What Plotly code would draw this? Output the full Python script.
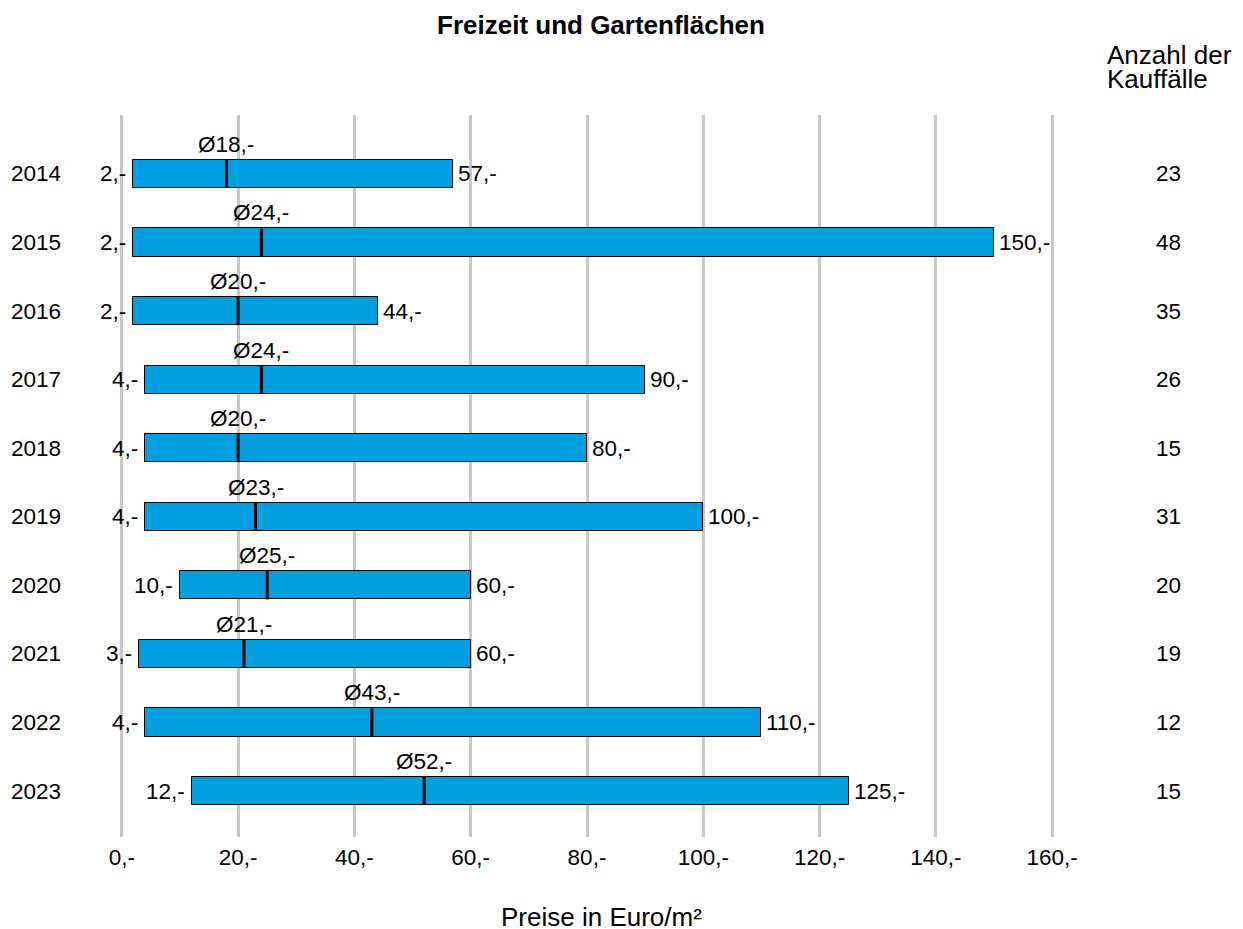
import plotly.graph_objects as go

years = ["2014", "2015", "2016", "2017", "2018", "2019", "2020", "2021", "2022", "2023"]
min_vals = [2, 2, 2, 4, 4, 4, 10, 3, 4, 12]
max_vals = [57, 150, 44, 90, 80, 100, 60, 60, 110, 125]
mean_vals = [18, 24, 20, 24, 20, 23, 25, 21, 43, 52]
counts = [23, 48, 35, 26, 15, 31, 20, 19, 12, 15]
tick_vals = [0, 20, 40, 60, 80, 100, 120, 140, 160]
tick_text = [f"{v},-" for v in tick_vals]

FONT = "Liberation Sans, Arial, sans-serif"
FS = 22.5
BIG = 26
BAR_COLOR = "#009FE0"
BAR_W = 0.41

ypos = list(range(len(years)))


def px_x(p):
    return (p - 116) / 942


def px_y(p):
    return (837 - p) / 722


fig = go.Figure()
fig.add_trace(go.Bar(
    y=ypos, x=[mx - mn for mn, mx in zip(min_vals, max_vals)], base=min_vals,
    orientation="h", width=BAR_W,
    marker=dict(color=BAR_COLOR, line=dict(color="black", width=1)),
    hoverinfo="skip", showlegend=False,
))
fig.add_trace(go.Scatter(
    y=ypos, x=mean_vals, mode="markers",
    marker=dict(symbol="line-ns", size=20, line=dict(color="black", width=3)),
    hoverinfo="skip", showlegend=False,
))

ann = []
for i, (mn, mx, me, c, yr) in enumerate(zip(min_vals, max_vals, mean_vals, counts, years)):
    ann.append(dict(x=mn, y=i, xref="x", yref="y", text=f"{mn},-", showarrow=False,
                    xanchor="right", yanchor="middle", xshift=-5))
    ann.append(dict(x=mx, y=i, xref="x", yref="y", text=f"{mx},-", showarrow=False,
                    xanchor="left", yanchor="middle", xshift=3))
    ann.append(dict(x=me, y=i - BAR_W / 2, xref="x", yref="y", text=f"Ø{me},-", showarrow=False,
                    xanchor="center", yanchor="bottom", yshift=1))
    ann.append(dict(x=px_x(1168), y=i, xref="paper", yref="y", text=str(c), showarrow=False,
                    xanchor="center", yanchor="middle"))
    ann.append(dict(x=px_x(9), y=i, xref="paper", yref="y", text=yr, showarrow=False,
                    xanchor="left", yanchor="middle"))

ann.append(dict(x=px_x(1105), y=px_y(55), xref="paper", yref="paper",
                text="Anzahl der", showarrow=False, xanchor="left", yanchor="middle",
                font=dict(size=BIG)))
ann.append(dict(x=px_x(1105), y=px_y(79), xref="paper", yref="paper",
                text="Kauffälle", showarrow=False, xanchor="left", yanchor="middle",
                font=dict(size=BIG)))
ann.append(dict(x=px_x(601), y=px_y(917), xref="paper", yref="paper",
                text="Preise in Euro/m²", showarrow=False, xanchor="center", yanchor="middle",
                font=dict(size=BIG)))

fig.update_layout(
    width=1243, height=929,
    margin=dict(l=116, r=1243 - 116 - 942, t=115, b=92, pad=0),
    paper_bgcolor="white", plot_bgcolor="white",
    font=dict(family=FONT, size=FS, color="black"),
    title=dict(text="<b>Freizeit und Gartenflächen</b>", x=601 / 1243, xanchor="center",
               y=1 - 25 / 929, yanchor="middle", yref="container",
               font=dict(family=FONT, size=BIG, color="black")),
    xaxis=dict(range=[-1, 161], tickvals=tick_vals, ticktext=tick_text,
               showgrid=True, gridcolor="#C8C8C8", gridwidth=3,
               zeroline=False, showline=False, ticks="", fixedrange=True,
               ticklabelstandoff=4),
    yaxis=dict(range=[9.67, -0.86], showticklabels=False, showgrid=False,
               zeroline=False, showline=False, ticks="", fixedrange=True),
    annotations=ann,
    bargap=0,
)

fig.write_html("out.html", config={"displayModeBar": False},
               post_script="document.body.style.margin='0';document.body.style.overflow='hidden';")
